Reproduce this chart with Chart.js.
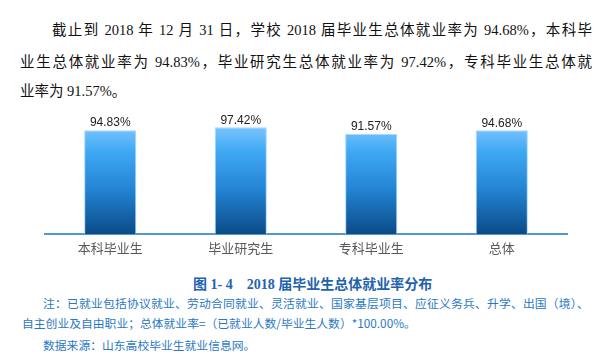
<!DOCTYPE html>
<html>
<head>
<meta charset="utf-8">
<script src="https://cdn.jsdelivr.net/npm/chart.js@4/dist/chart.umd.min.js"></script>
<style>
  html, body { margin: 0; padding: 0; background: #fff; }
  body { width: 609px; height: 363px; position: relative; overflow: hidden; }
  .para { position: absolute; font-family: "Liberation Serif", "Noto Sans CJK SC", serif; font-size: 14.5px; color: #111; white-space: nowrap; }
  .cap { position: absolute; font-family: "Liberation Serif", "Noto Sans CJK SC", serif; font-weight: bold; font-size: 14px; color: #1f63ad; white-space: nowrap; }
  .note { position: absolute; font-family: "Noto Sans CJK SC", sans-serif; font-size: 11.8px; color: #2a78c4; white-space: nowrap; }
  #wrap { position: absolute; left: 0; top: 100px; width: 609px; height: 165px; }
</style>
</head>
<body>
<div class="para" style="left:52px; top:18px; width:540px; text-align-last:justify;">截止到 2018 年 12 月 31 日，学校 2018 届毕业生总体就业率为 94.68%，本科毕</div>
<div class="para" style="left:20px; top:50px; width:572px; text-align-last:justify;">业生总体就业率为 94.83%，毕业研究生总体就业率为 97.42%，专科毕业生总体就</div>
<div class="para" style="left:20px; top:79px;">业率为 91.57%。</div>

<div id="wrap"><canvas id="chart"></canvas></div>

<div class="cap" style="left:193px; top:273px;">图 1- 4&nbsp;&nbsp;&nbsp; 2018 届毕业生总体就业率分布</div>
<div class="note" style="left:43px; top:294px; letter-spacing:0.2px;">注：已就业包括协议就业、劳动合同就业、灵活就业、国家基层项目、应征义务兵、升学、出国（境）、</div>
<div class="note" style="left:22px; top:314px;">自主创业及自由职业；总体就业率=（已就业人数/毕业生人数）*100.00%。</div>
<div class="note" style="left:43px; top:336px;">数据来源：山东高校毕业生就业信息网。</div>

<script>
const categories = ['本科毕业生', '毕业研究生', '专科毕业生', '总体'];
const rates = [94.83, 97.42, 91.57, 94.68];

// write the value above every bar
const valueLabels = {
    id: 'valueLabels',
    afterDatasetsDraw(chart) {
        const ctx = chart.ctx;
        const meta = chart.getDatasetMeta(0);
        ctx.save();
        ctx.font = '12px "Liberation Sans", Arial, sans-serif';
        ctx.fillStyle = '#222';
        ctx.textAlign = 'center';
        ctx.textBaseline = 'bottom';
        meta.data.forEach((bar, i) => {
            ctx.fillText(rates[i].toFixed(2) + '%', bar.x, bar.y - 1);
        });
        ctx.restore();
    }
};

const barFill = (context) => {
    const area = context.chart.chartArea;
    if (!area) return '#2a8bd8';
    const g = context.chart.ctx.createLinearGradient(0, area.top, 0, area.bottom);
    g.addColorStop(0, '#80c8ff');
    g.addColorStop(0.25, '#3ea8f4');
    g.addColorStop(0.6, '#2383d2');
    g.addColorStop(1, '#0a4b87');
    return g;
};

const config = {
    type: 'bar',
    data: {
        labels: categories,
        datasets: [{
            data: rates,
            backgroundColor: barFill,
            borderColor: '#a8d8ff',
            borderWidth: { top: 1, left: 1, right: 1, bottom: 0 },
            barPercentage: 0.4,
            categoryPercentage: 1
        }]
    },
    options: {
        responsive: true,
        maintainAspectRatio: false,
        animation: false,
        layout: { padding: { top: 24.5, left: 45, right: 42, bottom: 0 } },
        plugins: { legend: { display: false }, tooltip: { enabled: false } },
        scales: {
            x: {
                grid: { display: false, drawTicks: false },
                border: { display: true, color: '#4f97d6', width: 2 },
                ticks: { color: '#595959', padding: 6, font: { family: '"Noto Sans CJK SC", sans-serif', size: 13 } },
                afterFit: (scale) => { scale.height = 31; }
            },
            y: {
                display: false,
                min: 0,
                max: 100
            }
        }
    },
    plugins: [valueLabels]
};

new Chart(document.getElementById('chart'), config);
</script>
</body>
</html>
